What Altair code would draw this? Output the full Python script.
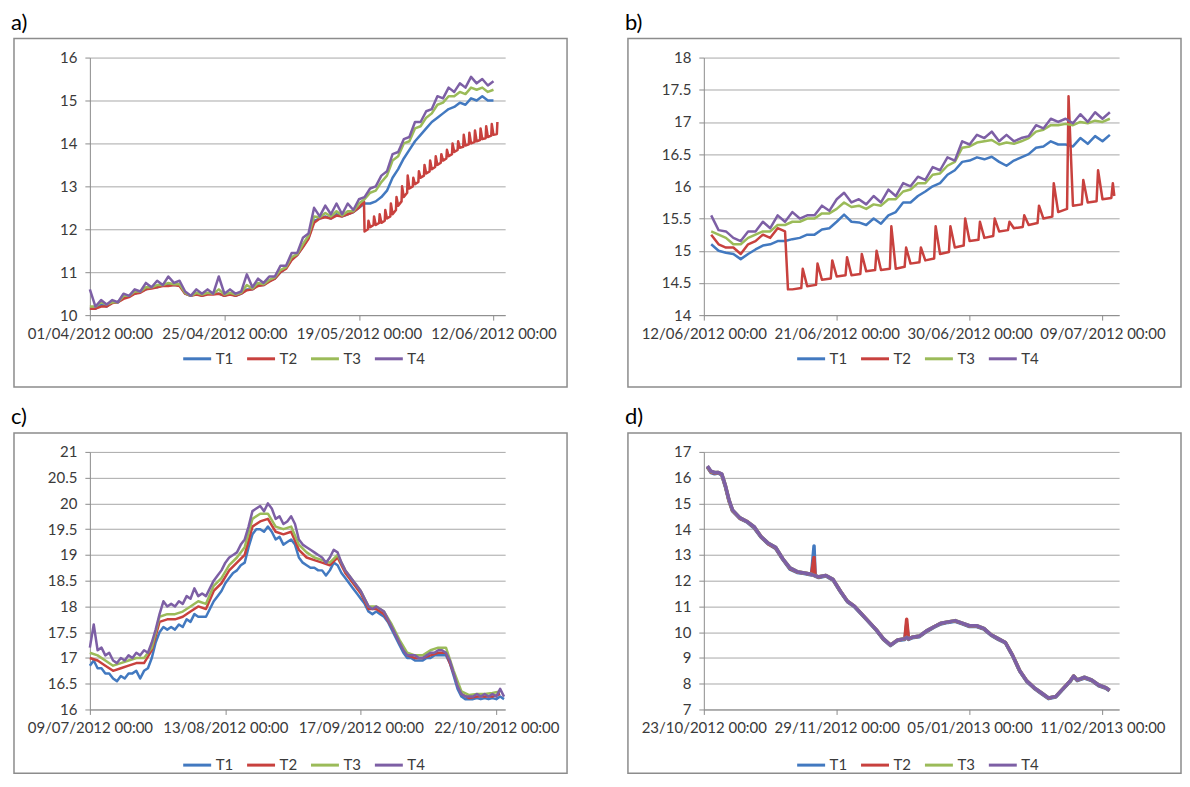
import altair as alt
import pandas as pd

SERIES = ["T1", "T2", "T3", "T4"]
COLORS = ["#4279c0", "#c8413e", "#9bbb59", "#7d5fa5"]
FONT = "Lato"

# ---------------- panel a : 01/04/2012 -> 12/06/2012 ----------------
A_START = "2012-04-01"
A_DAYS = list(range(73))
A_T1 = [10.15, 10.15, 10.25, 10.2, 10.3, 10.3, 10.4, 10.45, 10.5, 10.55,
        10.6, 10.65, 10.65, 10.7, 10.7, 10.7, 10.7, 10.5, 10.45, 10.5,
        10.45, 10.5, 10.5, 10.5, 10.45, 10.5, 10.45, 10.5, 10.6, 10.6,
        10.7, 10.7, 10.8, 10.85, 11.0, 11.1, 11.3, 11.4, 11.6, 11.8,
        12.2, 12.25, 12.3, 12.25, 12.35, 12.3, 12.35, 12.4, 12.5, 12.6,
        12.6, 12.65, 12.75, 12.9, 13.2, 13.4, 13.65, 13.85, 14.05, 14.2,
        14.35, 14.5, 14.6, 14.7, 14.8, 14.85, 14.95, 14.9, 15.05, 15.0,
        15.1, 15.0, 15.0]
A_T3 = [10.2, 10.2, 10.3, 10.25, 10.3, 10.3, 10.45, 10.45, 10.55, 10.55,
        10.65, 10.65, 10.7, 10.7, 10.75, 10.72, 10.72, 10.52, 10.45, 10.52,
        10.48, 10.52, 10.5, 10.6, 10.48, 10.52, 10.48, 10.52, 10.7, 10.62,
        10.75, 10.72, 10.82, 10.88, 11.05, 11.12, 11.35, 11.42, 11.65, 11.85,
        12.3, 12.28, 12.38, 12.3, 12.42, 12.32, 12.42, 12.42, 12.6, 12.7,
        12.85, 12.9, 13.1, 13.25, 13.6, 13.7, 14.0, 14.05, 14.35, 14.4,
        14.6, 14.7, 14.9, 14.95, 15.1, 15.1, 15.2, 15.15, 15.3, 15.25,
        15.3, 15.2, 15.25]
A_T4 = [10.6, 10.2, 10.35, 10.25, 10.35, 10.3, 10.5, 10.45, 10.6, 10.55,
        10.75, 10.65, 10.8, 10.7, 10.9, 10.75, 10.8, 10.55, 10.45, 10.6,
        10.5, 10.6, 10.5, 10.9, 10.5, 10.6, 10.5, 10.55, 10.95, 10.65,
        10.85, 10.75, 10.9, 10.9, 11.15, 11.15, 11.45, 11.45, 11.8, 11.9,
        12.5, 12.3, 12.55, 12.35, 12.6, 12.35, 12.6, 12.45, 12.7, 12.75,
        12.95, 13.0, 13.25, 13.35, 13.75, 13.8, 14.1, 14.15, 14.5, 14.5,
        14.75, 14.8, 15.1, 15.05, 15.3, 15.2, 15.4, 15.3, 15.55, 15.4,
        15.5, 15.35, 15.45]
# T2: daily readings up to the drop, then three readings per day (base, base, spike)
A_T2_DAYS = list(range(49)) + [48.9] + [k + f for k in range(49, 73) for f in (0.0, 0.6, 0.7)]
A_T2 = [10.15, 10.15, 10.2, 10.2, 10.28, 10.3, 10.38, 10.42, 10.5, 10.52,
        10.6, 10.62, 10.65, 10.68, 10.68, 10.7, 10.68, 10.5, 10.45, 10.48,
        10.45, 10.48, 10.48, 10.5, 10.45, 10.48, 10.45, 10.5, 10.58, 10.6,
        10.68, 10.7, 10.78, 10.85, 11.0, 11.08, 11.28, 11.4, 11.58, 11.78,
        12.15, 12.25, 12.28, 12.25, 12.32, 12.3, 12.35, 12.4, 12.5,
        12.65,
        11.95, 12.0, 12.2,    12.05, 12.1, 12.3,    12.1, 12.15, 12.35,
        12.15, 12.2, 12.45,   12.25, 12.3, 12.6,    12.35, 12.45, 12.75,
        12.55, 12.65, 13.0,   12.75, 12.85, 13.25,  12.95, 13.0, 13.2,
        13.05, 13.1, 13.35,   13.2, 13.25, 13.5,    13.3, 13.35, 13.6,
        13.4, 13.45, 13.7,    13.5, 13.55, 13.75,   13.6, 13.65, 13.85,
        13.7, 13.75, 14.0,    13.8, 13.85, 14.05,   13.9, 13.92, 14.2,
        13.95, 13.98, 14.25,  14.0, 14.03, 14.3,    14.05, 14.08, 14.35,
        14.1, 14.12, 14.4,    14.15, 14.18, 14.45,  14.2, 14.22, 14.5]

# ---------------- panel b : 12/06/2012 -> 09/07/2012 ----------------
B_START = "2012-06-12"
B_DAYS = [0.5 * k for k in range(1, 56)]
B_T1 = [15.1, 15.0, 14.97, 14.95, 14.87, 14.95, 15.02, 15.08, 15.1, 15.15,
        15.15, 15.18, 15.2, 15.25, 15.25, 15.33, 15.35, 15.45, 15.56, 15.45,
        15.44, 15.4, 15.5, 15.42, 15.55, 15.6, 15.75, 15.75, 15.85, 15.92,
        16.0, 16.05, 16.18, 16.25, 16.38, 16.4, 16.45, 16.42, 16.46, 16.38,
        16.32, 16.4, 16.45, 16.5, 16.6, 16.62, 16.7, 16.65, 16.65, 16.62,
        16.75, 16.66, 16.78, 16.7, 16.8]
B_T3 = [15.3, 15.25, 15.2, 15.1, 15.1, 15.2, 15.25, 15.3, 15.3, 15.4,
        15.4, 15.45, 15.45, 15.5, 15.5, 15.58, 15.58, 15.65, 15.75, 15.68,
        15.7, 15.65, 15.72, 15.7, 15.8, 15.8, 15.92, 15.95, 16.05, 16.05,
        16.18, 16.2, 16.32, 16.38, 16.6, 16.62, 16.68, 16.7, 16.72, 16.65,
        16.68, 16.66, 16.7, 16.75, 16.85, 16.88, 16.95, 16.95, 16.97, 16.95,
        17.0, 16.98, 17.02, 17.0, 17.05]
B_T4 = [15.55, 15.32, 15.3, 15.2, 15.15, 15.3, 15.3, 15.45, 15.35, 15.55,
        15.45, 15.6, 15.5, 15.55, 15.55, 15.7, 15.62, 15.8, 15.9, 15.75,
        15.8, 15.72, 15.85, 15.75, 15.95, 15.85, 16.05, 16.0, 16.15, 16.1,
        16.3, 16.25, 16.45, 16.4, 16.7, 16.65, 16.8, 16.75, 16.85, 16.7,
        16.8, 16.7, 16.75, 16.78, 16.95, 16.9, 17.05, 17.0, 17.05, 16.98,
        17.12, 17.0, 17.15, 17.05, 17.15]
# T2: half-day readings before the drop, then three readings per day (base, base, spike)
B_T2_DAYS = ([0.5, 1.0, 1.5, 2.0, 2.5, 3.0, 3.5, 4.0, 4.5, 5.0, 5.5, 5.7]
             + [k + f for k in range(6, 28) for f in (0.0, 0.6, 0.7)] + [27.8])
B_T2 = [15.25, 15.1, 15.05, 15.05, 14.95, 15.1, 15.15, 15.25, 15.2, 15.35, 15.3, 14.4,
        14.4, 14.42, 14.72,   14.45, 14.47, 14.8,   14.55, 14.57, 14.85,
        14.6, 14.62, 14.9,    14.62, 14.64, 14.95,  14.68, 14.7, 15.0,
        14.7, 14.72, 15.38,   14.72, 14.75, 15.05,  14.8, 14.82, 15.05,
        14.85, 14.88, 15.38,  14.95, 14.98, 15.38,  15.05, 15.08, 15.5,
        15.15, 15.17, 15.45,  15.2, 15.23, 15.5,    15.3, 15.32, 15.45,
        15.35, 15.37, 15.55,  15.4, 15.43, 15.7,    15.5, 15.53, 16.05,
        15.6, 15.65, 17.4,    15.7, 15.72, 16.1,    15.75, 15.77, 16.25,
        15.8, 15.82, 16.05,
        15.85]

# ---------------- panel c : 09/07/2012 -> 22/10/2012 ----------------
C_START = "2012-07-09"
C_DAYS = list(range(108))
C_T1 = [16.85, 16.95, 16.8, 16.8, 16.7, 16.7, 16.6, 16.55, 16.65, 16.6,
        16.7, 16.7, 16.75, 16.6, 16.75, 16.8, 17.0, 17.3, 17.5, 17.6,
        17.55, 17.6, 17.55, 17.65, 17.6, 17.75, 17.7, 17.85, 17.8, 17.8,
        17.8, 17.95, 18.1, 18.2, 18.3, 18.45, 18.55, 18.65, 18.7, 18.8,
        18.85, 19.15, 19.4, 19.5, 19.5, 19.45, 19.55, 19.45, 19.3, 19.35,
        19.2, 19.25, 19.3, 19.2, 18.95, 18.85, 18.8, 18.75, 18.75, 18.7,
        18.7, 18.6, 18.7, 18.85, 18.8, 18.65, 18.55, 18.45, 18.35, 18.25,
        18.15, 18.05, 17.9, 17.85, 17.9, 17.85, 17.8, 17.7, 17.55, 17.4,
        17.25, 17.1, 17.0, 17.0, 16.95, 16.95, 16.95, 17.0, 17.0, 17.05,
        17.05, 17.05, 17.05, 16.9, 16.65, 16.4, 16.25, 16.2, 16.2, 16.2,
        16.22, 16.2, 16.22, 16.2, 16.22, 16.2, 16.25, 16.2]
C_T4 = [17.2, 17.65, 17.15, 17.2, 17.05, 17.1, 16.95, 16.9, 17.0, 16.95,
        17.05, 17.0, 17.1, 17.05, 17.15, 17.1, 17.3, 17.55, 17.85, 18.1,
        18.0, 18.05, 18.0, 18.1, 18.05, 18.2, 18.15, 18.35, 18.2, 18.25,
        18.2, 18.35, 18.5, 18.6, 18.7, 18.85, 18.95, 19.0, 19.05, 19.2,
        19.3, 19.55, 19.85, 19.9, 19.95, 19.85, 20.0, 19.9, 19.7, 19.75,
        19.6, 19.65, 19.75, 19.6, 19.3, 19.2, 19.15, 19.1, 19.05, 19.0,
        18.95, 18.85, 18.95, 19.1, 19.05, 18.85, 18.7, 18.6, 18.5, 18.4,
        18.3, 18.15, 18.0, 17.95, 18.0, 17.95, 17.9, 17.75, 17.6, 17.45,
        17.3, 17.15, 17.05, 17.05, 17.05, 17.0, 17.0, 17.05, 17.1, 17.1,
        17.15, 17.15, 17.1, 16.95, 16.7, 16.45, 16.3, 16.25, 16.25, 16.25,
        16.3, 16.25, 16.3, 16.25, 16.3, 16.25, 16.4, 16.25]
C_DAYS2 = list(range(0, 108, 2))
C_T2 = [17.0, 16.95, 16.85, 16.75, 16.8, 16.85, 16.9, 16.9, 17.15, 17.7,
        17.75, 17.75, 17.8, 17.9, 18.0, 17.95, 18.3, 18.45, 18.7, 18.85,
        19.0, 19.55, 19.65, 19.7, 19.45, 19.4, 19.45, 19.1, 18.95, 18.9,
        18.85, 18.8, 18.95, 18.65, 18.45, 18.25, 17.95, 17.95, 17.85, 17.6,
        17.3, 17.05, 17.0, 17.0, 17.05, 17.1, 17.1, 16.7, 16.3, 16.22,
        16.25, 16.25, 16.25, 16.3]
C_T3 = [17.1, 17.05, 16.95, 16.85, 16.9, 16.95, 17.0, 17.0, 17.2, 17.8,
        17.85, 17.85, 17.9, 18.0, 18.1, 18.05, 18.4, 18.55, 18.8, 18.95,
        19.15, 19.7, 19.8, 19.8, 19.55, 19.5, 19.55, 19.2, 19.05, 18.95,
        18.9, 18.85, 19.0, 18.7, 18.5, 18.3, 18.0, 18.0, 17.9, 17.65,
        17.35, 17.1, 17.05, 17.05, 17.15, 17.2, 17.2, 16.75, 16.35, 16.28,
        16.3, 16.3, 16.32, 16.35]

# ---------------- panel d : 23/10/2012 -> 11/02/2013 ----------------
D_START = "2012-10-23"
D_DAYS = [1, 2, 3, 4, 5, 6, 7, 8, 10, 12,
          14, 16, 18, 20, 22, 24, 26, 28, 30, 30.7,
          31, 32, 34, 36, 38, 40, 42, 44, 46, 48,
          50, 52, 54, 56, 56.5, 57, 58, 60, 62, 64,
          66, 68, 70, 72, 74, 76, 78, 80, 82, 84,
          86, 88, 90, 92, 94, 96, 98, 100, 102, 103,
          104, 106, 108, 110, 112, 113]
D_T1 = [16.4, 16.2, 16.15, 16.18, 16.1, 15.65, 15.1, 14.7, 14.42, 14.28,
        14.05, 13.68, 13.42, 13.25, 12.82, 12.45, 12.32, 12.28, 12.22, 13.35,
        12.18, 12.12, 12.18, 12.02, 11.58, 11.18, 10.98, 10.68, 10.38, 10.08,
        9.72, 9.48, 9.68, 9.72, 10.3, 9.72, 9.78, 9.82, 10.02, 10.18,
        10.32, 10.38, 10.42, 10.32, 10.22, 10.22, 10.12, 9.88, 9.72, 9.58,
        9.08, 8.48, 8.08, 7.82, 7.62, 7.42, 7.48, 7.78, 8.08, 8.28,
        8.12, 8.22, 8.12, 7.92, 7.82, 7.72]
D_T2 = [16.42, 16.22, 16.18, 16.2, 16.12, 15.68, 15.12, 14.72, 14.43, 14.3,
        14.08, 13.7, 13.43, 13.28, 12.84, 12.48, 12.34, 12.3, 12.24, 12.9,
        12.2, 12.14, 12.2, 12.04, 11.6, 11.2, 11.0, 10.7, 10.4, 10.1,
        9.74, 9.5, 9.7, 9.74, 10.5, 9.74, 9.8, 9.84, 10.04, 10.2,
        10.34, 10.4, 10.44, 10.34, 10.24, 10.24, 10.14, 9.9, 9.74, 9.6,
        9.1, 8.5, 8.1, 7.84, 7.64, 7.44, 7.5, 7.8, 8.1, 8.3,
        8.14, 8.24, 8.14, 7.94, 7.84, 7.74]
D_T3 = [16.44, 16.24, 16.2, 16.2, 16.14, 15.7, 15.14, 14.74, 14.45, 14.3,
        14.1, 13.7, 13.45, 13.3, 12.85, 12.5, 12.35, 12.3, 12.25, 12.2,
        12.2, 12.15, 12.2, 12.05, 11.6, 11.2, 11.0, 10.7, 10.4, 10.1,
        9.75, 9.5, 9.7, 9.75, 9.8, 9.75, 9.8, 9.85, 10.05, 10.2,
        10.35, 10.4, 10.45, 10.35, 10.25, 10.25, 10.15, 9.9, 9.75, 9.6,
        9.1, 8.5, 8.1, 7.85, 7.65, 7.45, 7.5, 7.8, 8.1, 8.3,
        8.15, 8.25, 8.15, 7.95, 7.85, 7.75]
D_T4 = [16.45, 16.25, 16.2, 16.2, 16.15, 15.7, 15.15, 14.75, 14.45, 14.3,
        14.1, 13.7, 13.45, 13.3, 12.85, 12.5, 12.35, 12.3, 12.25, 12.2,
        12.2, 12.15, 12.2, 12.05, 11.6, 11.2, 11.0, 10.7, 10.4, 10.1,
        9.75, 9.5, 9.7, 9.75, 9.8, 9.75, 9.8, 9.85, 10.05, 10.2,
        10.35, 10.4, 10.45, 10.35, 10.25, 10.25, 10.15, 9.9, 9.75, 9.6,
        9.1, 8.5, 8.1, 7.85, 7.65, 7.45, 7.5, 7.8, 8.1, 8.3,
        8.15, 8.25, 8.15, 7.95, 7.85, 7.75]

# axis ticks (labels) and ranges
A_XTICKS = [(2012, 4, 1), (2012, 4, 25), (2012, 5, 19), (2012, 6, 12)]
B_XTICKS = [(2012, 6, 12), (2012, 6, 21), (2012, 6, 30), (2012, 7, 9)]
C_XTICKS = [(2012, 7, 9), (2012, 8, 13), (2012, 9, 17), (2012, 10, 22)]
D_XTICKS = [(2012, 10, 23), (2012, 11, 29), (2013, 1, 5), (2013, 2, 11)]
A_XEND = (2012, 6, 14, 2)
B_XEND = (2012, 7, 10, 3)
C_XEND = (2012, 10, 24, 7)
D_XEND = (2013, 2, 15, 16)
A_YTICKS = [10, 11, 12, 13, 14, 15, 16]
B_YTICKS = [14, 14.5, 15, 15.5, 16, 16.5, 17, 17.5, 18]
C_YTICKS = [16, 16.5, 17, 17.5, 18, 18.5, 19, 19.5, 20, 20.5, 21]
D_YTICKS = [7, 8, 9, 10, 11, 12, 13, 14, 15, 16, 17]

W, H = 416, 258


def series_frame(start, days, values, name):
    ts = pd.Timestamp(start) + pd.to_timedelta(days, unit="D")
    return pd.DataFrame({"time": list(ts.strftime("%Y-%m-%dT%H:%M:%S")),
                         "value": values, "series": name})


def dt(t):
    if len(t) == 3:
        return alt.DateTime(year=t[0], month=t[1], date=t[2])
    return alt.DateTime(year=t[0], month=t[1], date=t[2], hours=t[3])


def panel(label, df, yticks, xticks, xend, frame_bottom, legend_y, line_w):
    lines = alt.Chart(df).mark_line(strokeWidth=line_w, strokeJoin="round").encode(
        x=alt.X("time:T", title=None,
                scale=alt.Scale(domain=[dt(xticks[0]), dt(xend)]),
                axis=alt.Axis(values=[dt(t) for t in xticks], format="%d/%m/%Y %H:%M",
                              grid=False, domainColor="#8c8c8c", tickColor="#8c8c8c",
                              tickSize=5, labelFont=FONT, labelFontSize=15,
                              labelColor="#3a3a3a", labelPadding=6, labelOverlap=False,
                              labelFlush=False)),
        y=alt.Y("value:Q", title=None,
                scale=alt.Scale(domain=[yticks[0], yticks[-1]], nice=False, zero=False),
                axis=alt.Axis(values=yticks, format="~g", grid=True, gridColor="#a8a8a8",
                              domainColor="#8c8c8c", tickColor="#8c8c8c", tickSize=5,
                              labelFont=FONT, labelFontSize=15, labelColor="#3a3a3a",
                              labelPadding=8)),
        color=alt.Color("series:N",
                        scale=alt.Scale(domain=SERIES, range=COLORS),
                        legend=alt.Legend(title=None, orient="none", legendX=92,
                                          legendY=legend_y, direction="horizontal",
                                          symbolType="stroke", symbolSize=784,
                                          symbolStrokeWidth=3, labelFont=FONT,
                                          labelFontSize=15, labelColor="#3a3a3a",
                                          labelOffset=3, columnPadding=7, padding=0)),
    )
    box = alt.Chart(pd.DataFrame({"k": [0]})).mark_rect(
        filled=False, stroke="#8c8c8c", strokeWidth=1.5
    ).encode(x=alt.value(-76), x2=alt.value(W + 62), y=alt.value(-19),
             y2=alt.value(H + frame_bottom))
    return alt.layer(box, lines).properties(
        width=W, height=H,
        title=alt.TitleParams(text=label, anchor="start", frame="group", dx=-79,
                              offset=3, fontSize=22, font=FONT, fontWeight="normal",
                              color="#000000"))


df_a = pd.concat([series_frame(A_START, A_DAYS, A_T1, "T1"),
                  series_frame(A_START, A_T2_DAYS, A_T2, "T2"),
                  series_frame(A_START, A_DAYS, A_T3, "T3"),
                  series_frame(A_START, A_DAYS, A_T4, "T4")], ignore_index=True)
df_b = pd.concat([series_frame(B_START, B_DAYS, B_T1, "T1"),
                  series_frame(B_START, B_T2_DAYS, B_T2, "T2"),
                  series_frame(B_START, B_DAYS, B_T3, "T3"),
                  series_frame(B_START, B_DAYS, B_T4, "T4")], ignore_index=True)
df_c = pd.concat([series_frame(C_START, C_DAYS, C_T1, "T1"),
                  series_frame(C_START, C_DAYS2, C_T2, "T2"),
                  series_frame(C_START, C_DAYS2, C_T3, "T3"),
                  series_frame(C_START, C_DAYS, C_T4, "T4")], ignore_index=True)
df_d = pd.concat([series_frame(D_START, D_DAYS, D_T1, "T1"),
                  series_frame(D_START, D_DAYS, D_T2, "T2"),
                  series_frame(D_START, D_DAYS, D_T3, "T3"),
                  series_frame(D_START, D_DAYS, D_T4, "T4")], ignore_index=True)

pa = panel("a)", df_a, A_YTICKS, A_XTICKS, A_XEND, 72, H + 28, 2.5)
pb = panel("b)", df_b, B_YTICKS, B_XTICKS, B_XEND, 72, H + 28, 2.5)
pc = panel("c)", df_c, C_YTICKS, C_XTICKS, C_XEND, 64, H + 40, 2.5)
pdd = panel("d)", df_d, D_YTICKS, D_XTICKS, D_XEND, 64, H + 40, 3.5)

top = alt.hconcat(pa, pb, spacing=57).resolve_scale(color="independent")
bottom = alt.hconcat(pc, pdd, spacing=57).resolve_scale(color="independent")
chart = alt.vconcat(top, bottom, spacing=18).resolve_scale(color="independent").properties(
    padding={"left": 3, "top": 3, "right": 0, "bottom": 0}, background="#ffffff"
).configure_view(strokeWidth=0)

chart.save("out.html", embed_options={"renderer": "svg", "actions": False})
